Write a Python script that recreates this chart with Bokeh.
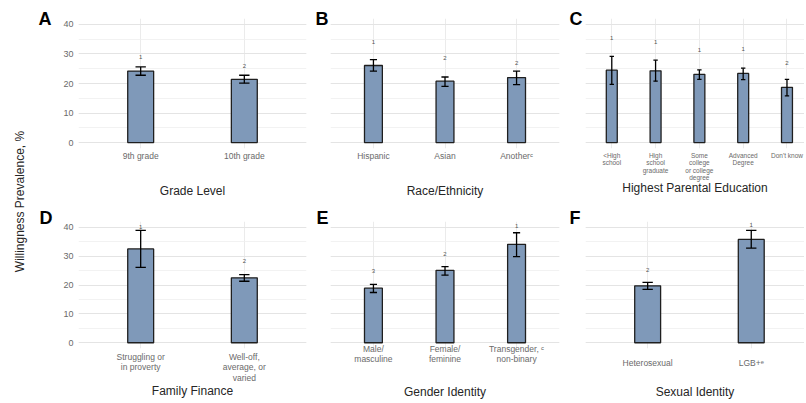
import math
from bokeh.plotting import figure
from bokeh.layouts import row, column
from bokeh.models import Range1d, FixedTicker, SingleIntervalTicker, Label, ColumnDataSource, Title
from bokeh.core.properties import value
from bokeh.embed import file_html
from bokeh.resources import INLINE

FONT = "Liberation Sans"

# ---------------- data ----------------
grade_cats = ["9th grade", "10th grade"]
grade_vals = [24.2, 21.4]
grade_lo = [22.8, 20.1]
grade_hi = [25.6, 22.8]
grade_sig = ["1", "2"]
grade_sig_y = [29.0, 26.0]

race_cats = ["Hispanic", "Asian", "Another\u1d9c"]
race_vals = [26.1, 20.8, 22.0]
race_lo = [24.2, 19.0, 19.6]
race_hi = [28.1, 22.2, 24.2]
race_sig = ["1", "2", "2"]
race_sig_y = [34.2, 28.7, 27.0]

edu_cats = ["<High\nschool", "High\nschool\ngraduate", "Some\ncollege\nor college\ndegree",
            "Advanced\nDegree", "Don't know"]
edu_vals = [24.5, 24.3, 23.1, 23.4, 18.7]
edu_lo = [19.7, 20.8, 21.4, 21.3, 15.8]
edu_hi = [29.2, 27.9, 24.6, 25.2, 21.4]
edu_sig = ["1", "1", "1", "1", "2"]
edu_sig_y = [35.5, 34.0, 31.2, 31.7, 26.8]

fin_cats = ["Struggling or\nin proverty", "Well-off,\naverage, or\nvaried"]
fin_vals = [32.5, 22.5]
fin_lo = [26.1, 21.3]
fin_hi = [38.9, 23.6]
fin_sig = ["1", "2"]
fin_sig_y = [40.2, 28.2]

gen_cats = ["Male/\nmasculine", "Female/\nfeminine", "Transgender, \u1d9c\nnon-binary"]
gen_vals = [18.9, 25.1, 34.1]
gen_lo = [17.4, 23.4, 29.8]
gen_hi = [20.2, 26.4, 38.1]
gen_sig = ["3", "2", "1"]
gen_sig_y = [24.8, 30.8, 40.6]

sex_cats = ["Heterosexual", "LGB+\u1d49"]
sex_vals = [19.7, 35.8]
sex_lo = [18.5, 32.8]
sex_hi = [20.9, 38.9]
sex_sig = ["2", "1"]
sex_sig_y = [25.1, 40.9]

y_ticks_major = 10
y_min, y_max = -2, 42
y_title = "Willingness Prevalence, %"

# ---------------- geometry ----------------
COLS = [
    dict(w=276, left=40, right=8),
    dict(w=253, left=16, right=8),
    dict(w=237, left=18, right=0),
]
ROWS = [
    dict(h=200, top=18, bottom=50, letter_standoff=-21),
    dict(h=201, top=21, bottom=50, letter_standoff=-12),
]

BAR_FILL = "#7f99b9"
BAR_LINE = "#1f1f1f"


def panel(cats, vals, lo, hi, sig, sig_y, title, letter, col, rw, xmax, show_y,
          label_size, label_lh, label_standoff, title_standoff, letter_offset):
    n = len(cats)
    pos = [i + 1 for i in range(n)]
    c = COLS[col]
    r = ROWS[rw]
    p = figure(width=c["w"], height=r["h"],
               min_border_left=c["left"], min_border_right=c["right"],
               min_border_top=r["top"], min_border_bottom=r["bottom"],
               x_range=Range1d(0.4, xmax), y_range=Range1d(y_min, y_max),
               output_backend="svg", toolbar_location=None, tools="")
    p.outline_line_color = None
    p.background_fill_color = "white"
    p.border_fill_color = "white"

    yt = SingleIntervalTicker(interval=y_ticks_major, num_minor_ticks=2)
    p.yaxis.ticker = yt
    p.ygrid.ticker = yt
    p.ygrid.grid_line_color = "#e4e4e4"
    p.ygrid.grid_line_width = 1
    p.ygrid.minor_grid_line_color = "#efefef"
    p.ygrid.minor_grid_line_width = 0.8

    xt = FixedTicker(ticks=pos)
    p.xaxis.ticker = xt
    p.xgrid.ticker = xt
    p.xgrid.grid_line_color = "#e6e6e6"
    p.xgrid.grid_line_width = 0.8
    p.xaxis.major_label_overrides = {k: v for k, v in zip(pos, cats)}

    for ax in (p.xaxis[0], p.yaxis[0]):
        ax.axis_line_color = None
        ax.major_tick_line_color = None
        ax.minor_tick_line_color = None
        ax.major_tick_out = 0
        ax.major_tick_in = 0
        ax.minor_tick_out = 0
        ax.minor_tick_in = 0
        ax.major_label_text_font = FONT
        ax.major_label_text_color = "#6a6a6a"
    xa = p.xaxis[0]
    xa.major_label_text_font_size = label_size
    xa.major_label_text_line_height = label_lh
    xa.major_label_standoff = label_standoff
    xa.axis_label = title
    xa.axis_label_text_font = FONT
    xa.axis_label_text_font_size = "12px"
    xa.axis_label_text_font_style = "normal"
    xa.axis_label_text_color = "#262626"
    xa.axis_label_standoff = title_standoff
    p.yaxis.major_label_text_font_size = "9px"
    p.yaxis.major_label_standoff = 5
    p.yaxis.visible = show_y

    src = ColumnDataSource(dict(
        x=pos, top=vals, lo=lo, hi=hi,
        cl=[x - 0.05 for x in pos], cr=[x + 0.05 for x in pos],
        sig=sig, sig_y=sig_y))
    p.vbar(x="x", width=0.25, bottom=0, top="top", source=src,
           fill_color=BAR_FILL, line_color=BAR_LINE, line_width=1.3)
    p.segment(x0="x", y0="lo", x1="x", y1="hi", source=src, line_color="black", line_width=1.3)
    p.segment(x0="cl", y0="hi", x1="cr", y1="hi", source=src, line_color="black", line_width=1.3)
    p.segment(x0="cl", y0="lo", x1="cr", y1="lo", source=src, line_color="black", line_width=1.3)
    p.text(x="x", y="sig_y", text="sig", source=src, text_font=value(FONT),
           text_font_size="6px", text_align="center", text_baseline="middle",
           text_color="#555555")

    p.add_layout(Title(text=letter, align="left", offset=letter_offset,
                       standoff=r["letter_standoff"], text_font=FONT,
                       text_font_size="18px", text_font_style="bold",
                       text_color="black"), "above")
    return p


pA = panel(grade_cats, grade_vals, grade_lo, grade_hi, grade_sig, grade_sig_y,
           "Grade Level", "A", 0, 0, 2.6, True, "8.5px", 1.1, 2, 20, -40)
pB = panel(race_cats, race_vals, race_lo, race_hi, race_sig, race_sig_y,
           "Race/Ethnicity", "B", 1, 0, 3.6, False, "8.5px", 1.1, 2, 20, -15)
pC = panel(edu_cats, edu_vals, edu_lo, edu_hi, edu_sig, edu_sig_y,
           "Highest Parental Education", "C", 2, 0, 5.4, False, "6.5px", 1.08, 3, -3, -16)
pD = panel(fin_cats, fin_vals, fin_lo, fin_hi, fin_sig, fin_sig_y,
           "Family Finance", "D", 0, 1, 2.6, True, "8.5px", 1.08, 3, -2, -39)
pE = panel(gen_cats, gen_vals, gen_lo, gen_hi, gen_sig, gen_sig_y,
           "Gender Identity", "E", 1, 1, 3.6, False, "8.5px", 1.0, -5, 18, -14)
pF = panel(sex_cats, sex_vals, sex_lo, sex_hi, sex_sig, sex_sig_y,
           "Sexual Identity", "F", 2, 1, 2.514, False, "8.5px", 1.1, 9, 14, -16)

ylab = figure(width=38, height=401, min_border_left=0, min_border_right=0,
              min_border_top=0, min_border_bottom=0,
              x_range=Range1d(0, 1), y_range=Range1d(0, 1),
              x_axis_location=None, y_axis_location=None,
              output_backend="svg", toolbar_location=None, tools="")
ylab.grid.visible = False
ylab.outline_line_color = None
ylab.add_layout(Label(x=19, y=200, x_units="screen", y_units="screen", angle=math.pi / 2,
                      text=y_title, text_font=FONT, text_font_size="12px",
                      text_color="#262626", text_align="center", text_baseline="middle"))

layout = row(ylab, column(row(pA, pB, pC), row(pD, pE, pF)))

open("out.html", "w").write(file_html(layout, INLINE))
